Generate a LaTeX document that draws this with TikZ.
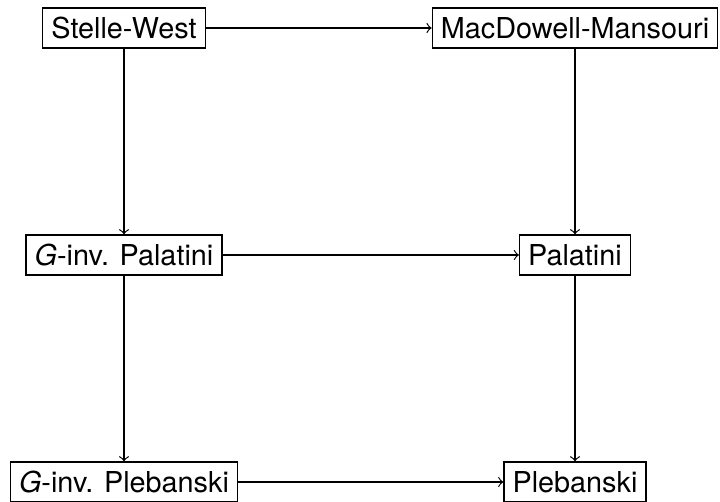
\documentclass[tikz,border=0pt]{standalone}
\usepackage{fontspec}
\setmainfont{TeX Gyre Heros}
\begin{document}
\begin{tikzpicture}[x=0.3472pt, y=-0.3472pt,
  model/.style={draw, line width=0.4pt, inner xsep=3pt, inner ysep=0pt,
    minimum height=13.9pt, font=\fontsize{10}{12}\selectfont},
  link/.style={->, line width=0.4pt}]
  \useasboundingbox (0,0) rectangle (720,502);
  % first row
  \node[model] (sw) at (124,28) {Stelle-West};
  \node[model] (mm) at (575,28) {MacDowell-Mansouri};
  % second row
  \node[model] (gpal) at (124,255) {\textit{G}-inv. Palatini};
  \node[model] (pal) at (575,255) {Palatini};
  % third row
  \node[model] (gpleb) at (124,482) {\textit{G}-inv. Plebanski};
  \node[model] (pleb) at (575,482) {Plebanski};
  % horizontal arrows
  \draw[link] (sw) -- (mm);
  \draw[link] (gpal) -- (pal);
  \draw[link] (gpleb) -- (pleb);
  % vertical arrows
  \draw[link] (sw) -- (gpal);
  \draw[link] (gpal) -- (gpleb);
  \draw[link] (mm) -- (pal);
  \draw[link] (pal) -- (pleb);
\end{tikzpicture}
\end{document}
